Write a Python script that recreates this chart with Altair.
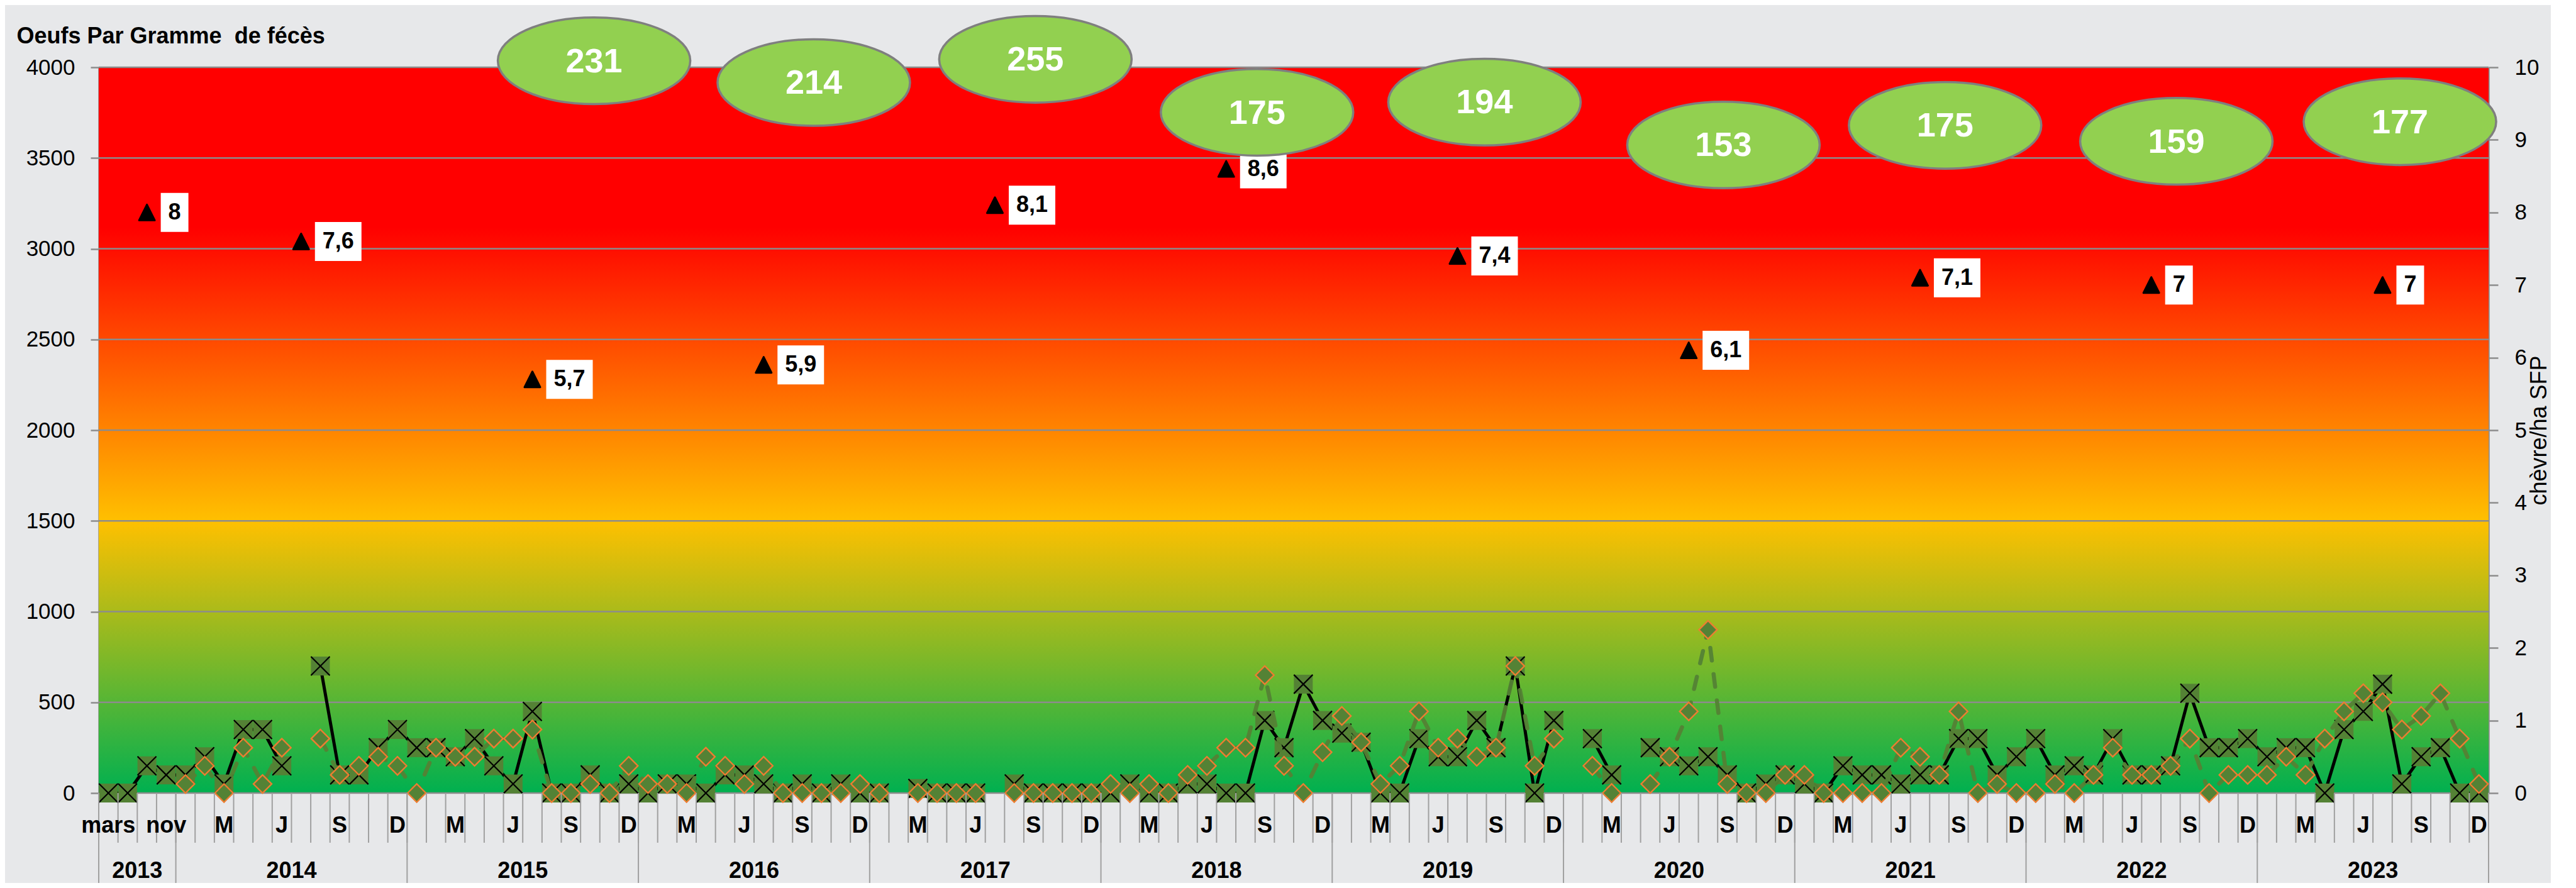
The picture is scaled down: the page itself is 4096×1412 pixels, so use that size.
import altair as alt
import pandas as pd

# ------------------------------------------------------------------ data
years = [2013, 2014, 2015, 2016, 2017, 2018, 2019, 2020, 2021, 2022, 2023]
months_2013 = ["mars", "juin", "sept", "nov"]
months_std = ["J", "F", "M", "A", "M", "J", "J", "A", "S", "O", "N", "D"]

# OPG series with X markers (black solid line)
opg_black = [
    0, 0, 150, 100, 100, 200, 50, 350, 350, 150,
    None, 700, 100, 100, 250, 350, 250, 250, 200, 300,
    150, 50, 450, 0, 0, 100, 0, 50, 0, 50,
    50, 0, 100, 100, 50, 0, 50, 0, 50, 0,
    0, None, 25, 0, 0, 0, None, 50, 0, 0,
    0, 0, 0, 50, 0, 0, 50, 50, 0, 0,
    400, 250, 600, 400, 330, 280, 0, 0, 300, 200,
    200, 400, 250, 700, 0, 400, None, 300, 100, None,
    250, 200, 150, 200, 100, 0, 50, 100, 50, 0,
    150, 100, 100, 50, 100, 100, 300, 300, 100, 200,
    300, 100, 150, 100, 300, 100, 100, 150, 550, 250,
    250, 300, 200, 250, 250, 0, 350, 450, 600, 50,
    200, 250, 0, 0,
]
# OPG series with diamond markers (dashed green line)
opg_green = [
    None, None, None, None, 50, 150, 0, 250, 50, 250,
    None, 300, 100, 150, 200, 150, 0, 250, 200, 200,
    300, 300, 350, 0, 0, 50, 0, 150, 50, 50,
    0, 200, 150, 50, 150, 0, 0, 0, 0, 50,
    0, None, 0, 0, 0, 0, None, 0, 0, 0,
    0, 0, 50, 0, 50, 0, 100, 150, 250, 250,
    650, 150, 0, 225, 425, 280, 50, 150, 450, 250,
    300, 200, 250, 700, 150, 300, None, 150, 0, None,
    50, 200, 450, 900, 50, 0, 0, 100, 100, 0,
    0, 0, 0, 250, 200, 100, 450, 0, 50, 0,
    0, 50, 0, 100, 250, 100, 100, 150, 300, 0,
    100, 100, 100, 200, 100, 300, 450, 550, 500, 350,
    425, 550, 300, 50,
]

# chevre / ha SFP (right axis)
sfp_slot = [2, 10, 22, 34, 46, 58, 70, 82, 94, 106, 118]
sfp_value = [8, 7.6, 5.7, 5.9, 8.1, 8.6, 7.4, 6.1, 7.1, 7, 7]
sfp_label = ["8", "7,6", "5,7", "5,9", "8,1", "8,6", "7,4", "6,1", "7,1", "7", "7"]

# green bubbles
bubble_pos = [25.7, 37.1, 48.6, 60.1, 71.9, 84.3, 95.8, 107.8, 119.4]
bubble_level = [10.09, 9.79, 10.11, 9.38, 9.52, 8.93, 9.20, 8.98, 9.25]
bubble_value = [231, 214, 255, 175, 194, 153, 175, 159, 177]

grid_vals = [0, 500, 1000, 1500, 2000, 2500, 3000, 3500, 4000]
right_vals = [0, 1, 2, 3, 4, 5, 6, 7, 8, 9, 10]

# ------------------------------------------------------------------ tables
cats = []
for y in years:
    for m in (months_2013 if y == 2013 else months_std):
        cats.append((y, m))
N = len(cats)

month_df = pd.DataFrame(
    [{"pos": i + 0.5, "lab": m} for i, (y, m) in enumerate(cats) if i % 3 == 0]
)
bound_df = pd.DataFrame({"b": list(range(N + 1))})
year_start = {}
for i, (y, m) in enumerate(cats):
    year_start.setdefault(y, i)
ybounds = sorted(set(list(year_start.values()) + [N]))
ybound_df = pd.DataFrame({"b": ybounds})
year_df = pd.DataFrame(
    [{"pos": (ybounds[k] + ybounds[k + 1]) / 2, "lab": str(y)} for k, y in enumerate(years)]
)


def series_df(vals):
    rows, seg = [], 0
    for i, v in enumerate(vals):
        if v is None:
            seg += 1
            continue
        rows.append({"pos": i + 0.5, "v": v, "seg": seg})
    return pd.DataFrame(rows)


black_df = series_df(opg_black)
green_df = series_df(opg_green)


# label boxes: path in units of 100 px (size = 200^2)
def box_path(lbl):
    w = 24 + sum(10 if ch == "," else 20 for ch in lbl)
    x0, x1 = 0.22, (22 + w) / 100.0
    return f"M {x0} -0.31 L {x1:.3f} -0.31 L {x1:.3f} 0.31 L {x0} 0.31 Z"


sfp_df = pd.DataFrame({
    "pos": [s + 0.5 for s in sfp_slot],
    "v": sfp_value,
    "lab": sfp_label,
    "path": [box_path(l) for l in sfp_label],
})
bubble_df = pd.DataFrame({"pos": bubble_pos, "v": bubble_level, "lab": [str(v) for v in bubble_value]})
grid_df = pd.DataFrame({"v": grid_vals})
one = pd.DataFrame({"a": [0]})

# ------------------------------------------------------------------ style
W, H = 3800, 1154
FONT = "Liberation Sans, Arial, sans-serif"
GRAY = "#8C8C8C"
TICKGRAY = "#A0A0A0"
BG = "#E7E8EA"
DKGREEN = "#548235"
ORANGE = "#ED7D31"

xs = alt.Scale(domain=[0, N], nice=False, zero=False)
yl = alt.Scale(domain=[0, 4000], nice=False, zero=False)
yr = alt.Scale(domain=[0, 10], nice=False, zero=False)

left_axis = alt.Axis(
    values=grid_vals, format="d", grid=False, domain=True, domainColor=GRAY, domainWidth=2.5,
    ticks=True, tickSize=13, tickColor=GRAY, tickWidth=2.5,
    labelFont=FONT, labelFontSize=35, labelColor="black", labelPadding=25,
    title="Oeufs Par Gramme\u00a0 de fécès", titleFont=FONT, titleFontSize=36,
    titleFontWeight="bold", titleColor="black", titleAngle=0, titleAlign="left",
    titleBaseline="middle", titleX=-131, titleY=-50,
)
right_axis = alt.Axis(
    orient="right", values=right_vals, format="d", grid=False, domain=True, domainColor=GRAY,
    domainWidth=2.5, ticks=True, tickSize=15, tickColor=GRAY, tickWidth=2.5,
    labelFont=FONT, labelFontSize=35, labelColor="black", labelPadding=26,
    title="chèvre/ha SFP", titleFont=FONT, titleFontSize=36, titleFontWeight="normal",
    titleColor="black", titleAngle=270, titleAlign="center", titleBaseline="middle",
    titleX=80, titleY=H / 2,
)


def X(f):
    return alt.X(f, type="quantitative", scale=xs, axis=None)


def YL(f):
    return alt.Y(f, type="quantitative", scale=yl, axis=left_axis)


def YR(f):
    return alt.Y(f, type="quantitative", scale=yr, axis=right_axis)


gradient = {
    "gradient": "linear", "x1": 0, "y1": 1, "x2": 0, "y2": 0,
    "stops": [
        {"offset": 0.0, "color": "#00B050"},
        {"offset": 0.375, "color": "#FFC000"},
        {"offset": 0.78, "color": "#FF0000"},
        {"offset": 1.0, "color": "#FF0000"},
    ],
}

# ------------------------------------------------------------------ layers
bg = alt.Chart(one).mark_rect(fill=gradient).encode(
    x=alt.value(0), x2=alt.value(W), y=alt.value(0), y2=alt.value(H)
)
grid = alt.Chart(grid_df).mark_rule(color=GRAY, strokeWidth=2.5).encode(
    y=YL("v"), x=alt.value(0), x2=alt.value(W)
)
bline = alt.Chart(black_df).mark_line(color="black", strokeWidth=5, strokeJoin="round").encode(
    x=X("pos"), y=YL("v"), detail="seg:N"
)
squares = alt.Chart(black_df).mark_square(size=900, color=DKGREEN, opacity=1).encode(
    x=X("pos"), y=YL("v")
)
crosses = alt.Chart(black_df).mark_point(
    shape="M -1 -1 L 1 1 M -1 1 L 1 -1", filled=False, stroke="black",
    strokeWidth=2.2, size=900, opacity=1,
).encode(x=X("pos"), y=YL("v"))
dline = alt.Chart(green_df).mark_line(
    color=DKGREEN, strokeWidth=6.5, strokeDash=[20, 22], strokeCap="round", opacity=0.95
).encode(x=X("pos"), y=YL("v"), detail="seg:N")
diamonds = alt.Chart(green_df).mark_point(
    shape="diamond", filled=True, fill=DKGREEN, stroke=ORANGE, strokeWidth=2.4,
    size=841, opacity=1,
).encode(x=X("pos"), y=YL("v"))

ticks_short = alt.Chart(bound_df).mark_rule(color=TICKGRAY, strokeWidth=2).encode(
    x=X("b"), y=alt.value(H), y2=alt.value(H + 79)
)
ticks_year = alt.Chart(ybound_df).mark_rule(color=TICKGRAY, strokeWidth=2).encode(
    x=X("b"), y=alt.value(H), y2=alt.value(H + 145)
)
month_lab = alt.Chart(month_df).mark_text(
    font=FONT, fontSize=36, fontWeight="bold", color="black", baseline="middle", align="center"
).encode(x=X("pos"), y=alt.value(H + 52), text="lab:N")
year_lab = alt.Chart(year_df).mark_text(
    font=FONT, fontSize=36, fontWeight="bold", color="black", baseline="middle", align="center"
).encode(x=X("pos"), y=alt.value(H + 124), text="lab:N")

tri = alt.Chart(sfp_df).mark_point(
    shape="M 0 -1 L 1 1 L -1 1 Z", filled=True, fill="black", stroke="black",
    strokeWidth=3, strokeJoin="round", size=625, opacity=1,
).encode(x=X("pos"), y=YR("v"))
boxes = alt.Chart(sfp_df).mark_point(
    filled=True, fill="white", strokeWidth=0, size=40000, opacity=1
).encode(x=X("pos"), y=YR("v"), shape=alt.Shape("path:N", scale=None))
box_txt = alt.Chart(sfp_df).mark_text(
    font=FONT, fontSize=36, fontWeight="bold", color="black", align="left",
    baseline="middle", dx=34,
).encode(x=X("pos"), y=YR("v"), text="lab:N")

ELL = ("M -1 0 C -1 -0.2485 -0.5523 -0.45 0 -0.45 C 0.5523 -0.45 1 -0.2485 1 0 "
       "C 1 0.2485 0.5523 0.45 0 0.45 C -0.5523 0.45 -1 0.2485 -1 0 Z")
ellipses = alt.Chart(bubble_df).mark_point(
    shape=ELL, size=306 ** 2, filled=True, fill="#92D050", stroke="#7F7F7F",
    strokeWidth=3.5, opacity=1,
).encode(x=X("pos"), y=YR("v"))
ell_txt = alt.Chart(bubble_df).mark_text(
    font=FONT, fontSize=54, fontWeight="bold", color="white", align="center",
    baseline="middle", dy=2,
).encode(x=X("pos"), y=YR("v"), text="lab:N")

left = alt.layer(bg, grid, bline, squares, crosses, dline, diamonds,
                 ticks_short, ticks_year, month_lab, year_lab)
right = alt.layer(tri, boxes, box_txt, ellipses, ell_txt)

chart = (
    alt.layer(left, right)
    .resolve_scale(y="independent")
    .properties(
        width=W, height=H,
        autosize=alt.AutoSizeParams(type="none"),
        padding={"left": 149, "top": 99, "right": 99, "bottom": 143},
        background=BG,
    )
    .configure_view(stroke=None)
)

chart.save("out.html", embed_options={"renderer": "svg", "actions": False})
